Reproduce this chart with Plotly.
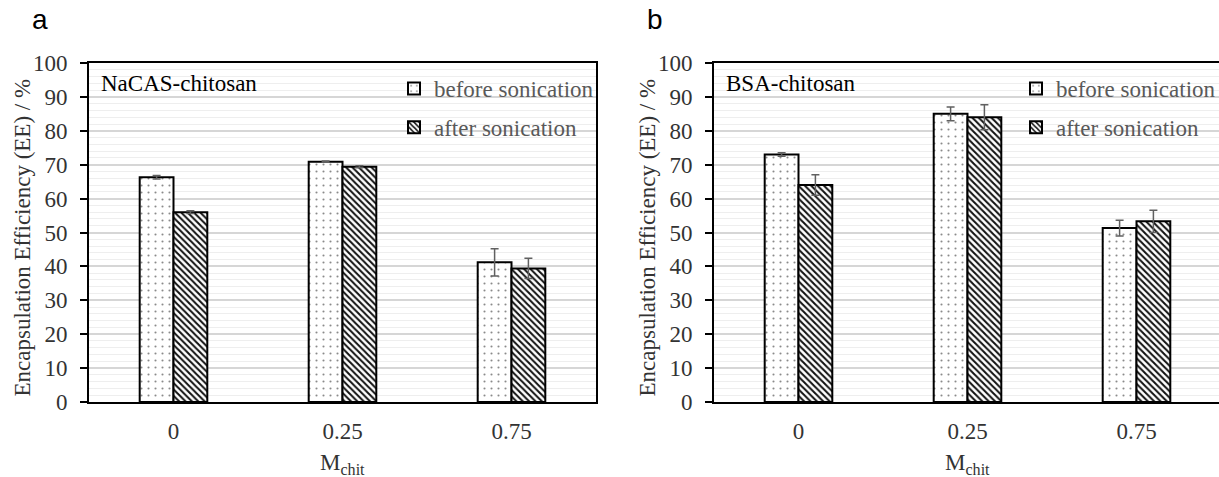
import plotly.graph_objects as go

# ---------------- data ----------------
categories = ["0", "0.25", "0.75"]

a_before = [66.3, 70.9, 41.2]
a_before_err = [0.5, 0.2, 4.0]
a_after = [56.0, 69.4, 39.4]
a_after_err = [0.4, 0.3, 3.0]

b_before = [73.0, 85.0, 51.3]
b_before_err = [0.5, 2.0, 2.3]
b_after = [64.0, 84.0, 53.3]
b_after_err = [3.0, 3.7, 3.3]

series_names = ["before sonication", "after sonication"]
panel_titles = ["NaCAS-chitosan", "BSA-chitosan"]
panel_letters = ["a", "b"]
y_title = "Encapsulation Efficiency (EE) / %"
x_title = "M<sub>chit</sub>"

# ---------------- layout helpers ----------------
W, H = 1219, 477
SERIF = "Liberation Serif"
SANS = "Liberation Sans"


def px_x(p):
    return p / W


def px_y(p):
    return (H - p) / H


top_px, bot_px = 63, 402
a_left, a_right = 89, 596
b_left = 714
cat_px = (a_right - a_left) / 3.0
b_range_end = -0.5 + (W - b_left) / cat_px

before_pattern = dict(shape=".", size=7, solidity=0.07, fgcolor="#8a8a8a",
                      bgcolor="white", fillmode="replace")
after_pattern = dict(shape="\\", size=4.5, solidity=0.45, fgcolor="#111111",
                     bgcolor="white", fillmode="replace")

fig = go.Figure()

panels = [
    (a_before, a_before_err, a_after, a_after_err, "x", "y", "legend"),
    (b_before, b_before_err, b_after, b_after_err, "x2", "y2", "legend2"),
]
for before, before_err, after, after_err, xa, ya, lg in panels:
    fig.add_trace(go.Bar(
        x=categories, y=before, name=series_names[0], xaxis=xa, yaxis=ya,
        legend=lg, legendgroup=lg + "b",
        marker=dict(color="white", pattern=before_pattern,
                    line=dict(color="black", width=2)),
        error_y=dict(type="data", array=before_err, color="#606060",
                     thickness=1.5, width=4),
    ))
    fig.add_trace(go.Bar(
        x=categories, y=after, name=series_names[1], xaxis=xa, yaxis=ya,
        legend=lg, legendgroup=lg + "a",
        marker=dict(color="white", pattern=after_pattern,
                    line=dict(color="black", width=2)),
        error_y=dict(type="data", array=after_err, color="#606060",
                     thickness=1.5, width=4),
    ))

yaxis_common = dict(
    range=[0, 100], dtick=10, tick0=0, automargin=False,
    showgrid=True, gridcolor="#d6d6d6", gridwidth=1.5,
    minor=dict(dtick=2, showgrid=True, gridcolor="#eeeeee", gridwidth=1),
    showline=True, linecolor="black", linewidth=2,
    ticks="outside", ticklen=7, tickwidth=2, tickcolor="black",
    tickfont=dict(family=SERIF, size=23, color="#333333"),
    ticklabelstandoff=8,
    zeroline=False, fixedrange=True,
)
xaxis_common = dict(
    type="category", automargin=False,
    showline=True, linecolor="black", linewidth=2, mirror=True,
    showgrid=False, ticks="", zeroline=False,
    tickfont=dict(family=SERIF, size=23, color="#333333"),
    ticklabelstandoff=7,
)

fig.update_layout(
    width=W, height=H,
    margin=dict(l=0, r=0, t=0, b=0, autoexpand=False),
    paper_bgcolor="white", plot_bgcolor="white",
    font=dict(family=SERIF),
    barmode="group", bargap=0.6, bargroupgap=0.0,
    xaxis=dict(domain=[px_x(a_left), px_x(a_right)], anchor="y",
               range=[-0.5, 2.5], **xaxis_common),
    yaxis=dict(domain=[px_y(bot_px), px_y(top_px)], anchor="x",
               mirror=True, **yaxis_common),
    xaxis2=dict(domain=[px_x(b_left), 1.0], anchor="y2",
                range=[-0.5, b_range_end], **xaxis_common),
    yaxis2=dict(domain=[px_y(bot_px), px_y(top_px)], anchor="x2",
                mirror=False, **yaxis_common),
    legend=dict(x=px_x(394), y=px_y(67), xanchor="left", yanchor="top",
                bgcolor="rgba(0,0,0,0)", traceorder="grouped",
                tracegroupgap=6,
                font=dict(family=SERIF, size=23, color="#595959")),
    legend2=dict(x=px_x(1016), y=px_y(67), xanchor="left", yanchor="top",
                 bgcolor="rgba(0,0,0,0)", traceorder="grouped",
                 tracegroupgap=6,
                 font=dict(family=SERIF, size=23, color="#595959")),
)

annotations = []
for i, (left, center) in enumerate([(a_left, (a_left + a_right) / 2),
                                    (b_left, b_left + 1.5 * cat_px)]):
    annotations.append(dict(
        x=px_x(left + 10), y=px_y(83), xref="paper", yref="paper",
        xanchor="left", yanchor="middle", showarrow=False,
        text=panel_titles[i], font=dict(family=SERIF, size=23, color="black")))
    annotations.append(dict(
        x=px_x(left - 67), y=px_y((top_px + bot_px) / 2 + 5), xref="paper",
        yref="paper", xanchor="center", yanchor="middle", showarrow=False,
        textangle=-90, text=y_title,
        font=dict(family=SERIF, size=23, color="#333333")))
    annotations.append(dict(
        x=px_x(center), y=px_y(464), xref="paper", yref="paper",
        xanchor="center", yanchor="middle", showarrow=False,
        text=x_title, font=dict(family=SERIF, size=23, color="#333333")))
    annotations.append(dict(
        x=px_x([40, 655][i]), y=px_y(19), xref="paper", yref="paper",
        xanchor="center", yanchor="middle", showarrow=False,
        text=panel_letters[i],
        font=dict(family=SANS, size=28, color="black")))

fig.update_layout(annotations=annotations)

fig.write_html("out.html")
